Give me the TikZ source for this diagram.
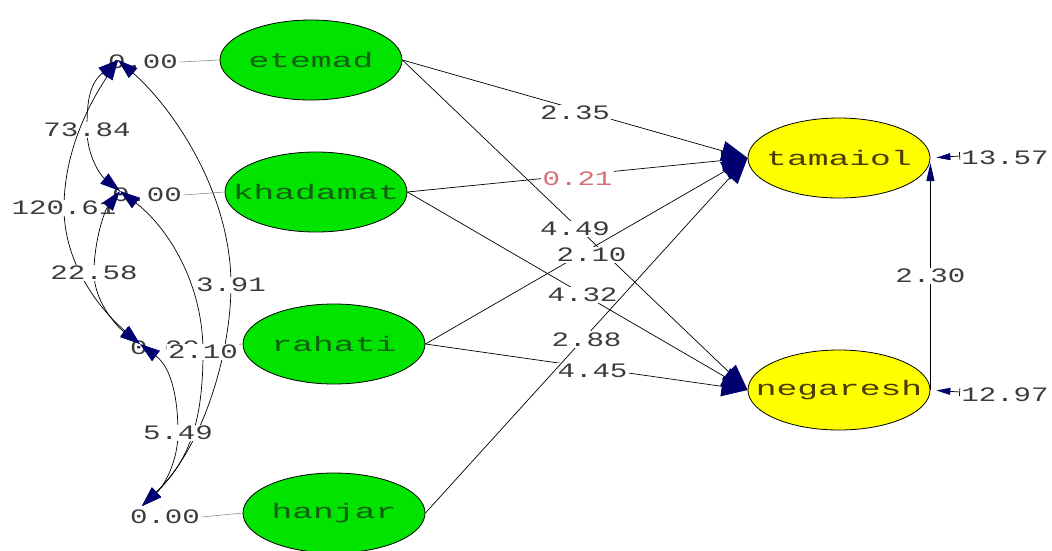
\documentclass[tikz,border=0pt]{standalone}
\usepackage{fontspec}
\usetikzlibrary{shapes.geometric,arrows.meta}
\newfontfamily\labfont[FakeStretch=1.42]{Liberation Mono}
\newfontfamily\nodefontfam[FakeStretch=1.65]{Liberation Mono}
\newcommand\numfont{\labfont\fontsize{20.5pt}{24pt}\selectfont}
\newcommand\ellfont{\nodefontfam\fontsize{21pt}{26pt}\selectfont}
\definecolor{exogreen}{RGB}{0,228,0}
\definecolor{endoyellow}{RGB}{255,255,0}
\definecolor{navyhead}{RGB}{0,0,110}
\definecolor{labgray}{RGB}{60,60,60}
\definecolor{exotext}{RGB}{20,95,20}
\definecolor{endotext}{RGB}{75,60,0}
\definecolor{redlab}{RGB}{215,110,120}
\definecolor{thingray}{RGB}{140,140,140}
\tikzset{
  ell/.style={ellipse, draw=black, line width=0.8pt, minimum width=182pt, minimum height=80pt, inner sep=0pt, font=\ellfont},
  exo/.style={ell, fill=exogreen, text=exotext},
  endo/.style={ell, fill=endoyellow, text=endotext},
  lab/.style={font=\numfont, text=labgray, inner sep=1.5pt},
  pathlab/.style={lab, fill=white, yshift=-4pt},
  covlab/.style={lab, fill=white},
  sem/.style={draw=black, line width=0.7pt, -{Triangle[length=26pt,width=20pt,color=navyhead]}},
  cov/.style={draw=black, line width=0.7pt, {Triangle[length=20pt,width=13pt,color=navyhead]}-{Triangle[length=20pt,width=13pt,color=navyhead]}},
  varline/.style={draw=thingray, line width=0.6pt},
  errarrow/.style={draw=black, line width=0.7pt, shorten >=6pt, {Bar[width=8pt,color=black]}-{Triangle[length=14pt,width=7pt,color=navyhead]}},
  upd/.style={draw=black, line width=0.9pt, shorten >=5pt, -{Triangle[length=18pt,width=8pt,color=navyhead]}}
}
\begin{document}
\begin{tikzpicture}[x=1pt,y=-1pt]
\useasboundingbox (0,0) rectangle (1052,550);
% latent variables
\node[exo] (etemad) at (311,60) {\makebox[0pt]{etemad}};
\node[exo] (khadamat) at (316,192) {\makebox[0pt]{khadamat}};
\node[exo] (rahati) at (334,344) {\makebox[0pt]{rahati}};
\node[exo] (hanjar) at (334,513) {\makebox[0pt]{hanjar}};
\node[endo] (tamaiol) at (839,158) {\makebox[0pt]{tamaiol}};
\node[endo] (negaresh) at (839,390) {\makebox[0pt]{negaresh}};
% variance labels
\node[lab] (v1) at (143,62) {0.00};
\node[lab] (v2) at (147,195) {0.00};
\node[lab] (v3) at (165,348) {0.00};
\node[lab] (v4) at (165,517) {0.00};
\draw[varline] (v1.east) -- (etemad.west);
\draw[varline] (v2.east) -- (khadamat.west);
\draw[varline] (v3.east) -- (rahati.west);
\draw[varline] (v4.east) -- (hanjar.west);
\coordinate (P1) at (118,60);
\coordinate (P2) at (120,191);
\coordinate (P3) at (140,344);
\coordinate (P4) at (142,506);
% structural paths
\draw[sem] (etemad.east) -- node[pathlab]{2.35} (tamaiol.west);
\draw[sem] (etemad.east) -- node[pathlab]{4.49} (negaresh.west);
\draw[sem] (khadamat.east) -- node[pathlab,text=redlab]{0.21} (tamaiol.west);
\draw[sem] (khadamat.east) -- node[pathlab,xshift=5pt]{4.32} (negaresh.west);
\draw[sem] (rahati.east) -- node[pathlab,xshift=5pt]{2.10} (tamaiol.west);
\draw[sem] (rahati.east) -- node[pathlab,xshift=6pt]{4.45} (negaresh.west);
\draw[sem] (hanjar.east) -- node[pathlab]{2.88} (tamaiol.west);
% covariances
\draw[cov] (P1) .. controls (88,85) and (87,105) .. (87,130) node[covlab]{73.84} .. controls (87,155) and (100,175) .. (P2);
\draw[cov] (P1) .. controls (95,95) and (64,145) .. (64,208) node[covlab]{120.61} .. controls (64,260) and (95,305) .. (P3);
\draw[cov] (P2) .. controls (105,210) and (94,240) .. (94,273) node[covlab]{22.58} .. controls (94,300) and (115,325) .. (P3);
\draw[cov] (P1) .. controls (170,105) and (231,190) .. (231,285) node[covlab]{3.91} .. controls (231,350) and (205,445) .. (P4);
\draw[cov] (P2) .. controls (165,225) and (203,280) .. (203,352) node[covlab]{2.10} .. controls (203,420) and (190,460) .. (P4);
\draw[cov] (P3) .. controls (172,368) and (178,400) .. (178,433) node[covlab]{5.49} .. controls (178,460) and (165,485) .. (P4);
% errors
\coordinate (e1) at (960,156);
\coordinate (e2) at (960,392);
\node[lab] (t1) at (1005,158) {13.57};
\node[lab] (t2) at (1005,395) {12.97};
\draw[errarrow] (e1) -- (tamaiol.east);
\draw[errarrow] (e2) -- (negaresh.east);
\draw[upd] (negaresh.east) -- node[covlab,yshift=-2pt]{2.30} (tamaiol.east);
\end{tikzpicture}
\end{document}
